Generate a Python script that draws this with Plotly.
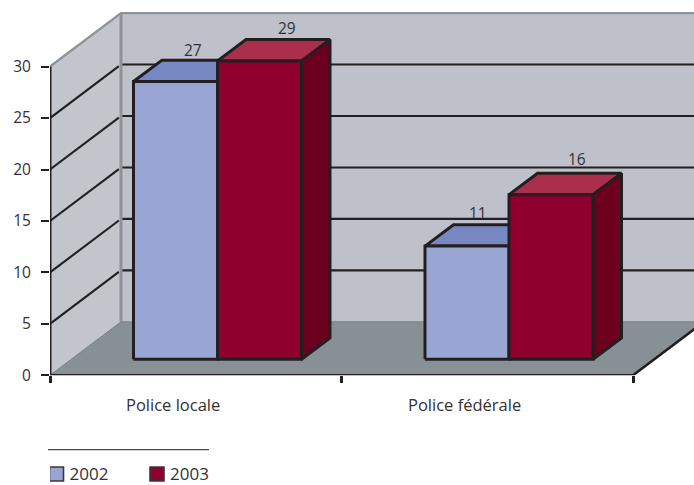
import plotly.graph_objects as go

# Chart content
categories = ["Police locale", "Police fédérale"]
years = ["2002", "2003"]
values_2002 = [27, 11]
values_2003 = [29, 16]
y_ticks = [0, 5, 10, 15, 20, 25, 30]

# Pixel frame of the front plane
W, H = 694, 485
LEFT, BASE = 50, 375.3
CAT_PX, UNIT_PX = 291.5, 10.29

# Pseudo-3D projection, expressed in axis units
WALL_DX, WALL_DY = 71 / CAT_PX, 53.5 / UNIT_PX
BAR_OFF_X, BAR_OFF_Y = 21 / CAT_PX, 16 / UNIT_PX
BAR_DX, BAR_DY = 28.5 / CAT_PX, 21.3 / UNIT_PX
BAR_W = 84 / CAT_PX
BAR_GAP = 62.5 / CAT_PX
X_END = 2.0
Y_TOP = 30

INK = "#231f20"
TEXT = "#333133"
RIM = "#8c9499"
WALL_BACK = "#bec1ca"
WALL_SIDE = "#c3c5cd"
FLOOR = "#879095"
FACES = {
    "2002": dict(front="#99a5d3", top="#7787c2", side="#6b79b3"),
    "2003": dict(front="#8f002e", top="#ab2e4c", side="#6d001f"),
}
FONT = "Open Sans"

fig = go.Figure()


def poly(xs, ys, fill, line=None, width=3):
    fig.add_trace(go.Scatter(
        x=xs, y=ys, mode="lines", fill="toself" if fill else None, fillcolor=fill,
        line=dict(color=line or "rgba(0,0,0,0)", width=width),
        hoverinfo="skip", showlegend=False, cliponaxis=False,
    ))


# Walls and floor
poly([0, WALL_DX, WALL_DX, 0, 0], [0, WALL_DY, WALL_DY + Y_TOP, Y_TOP, 0], WALL_SIDE)
poly([WALL_DX, X_END + WALL_DX, X_END + WALL_DX, WALL_DX, WALL_DX],
     [WALL_DY, WALL_DY, WALL_DY + Y_TOP, WALL_DY + Y_TOP, WALL_DY], WALL_BACK)
poly([0, X_END, X_END + WALL_DX, WALL_DX, 0], [0, 0, WALL_DY, WALL_DY, 0], FLOOR)

# Gridlines on the side and back walls
for v in y_ticks[1:-1]:
    poly([0, WALL_DX * 0.97], [v, v + WALL_DY * 0.97], None, INK, 2.1)
    poly([WALL_DX, X_END + WALL_DX], [v + WALL_DY, v + WALL_DY], None, INK, 2.1)

# Wall rims
poly([0, WALL_DX, X_END + WALL_DX], [Y_TOP, Y_TOP + WALL_DY, Y_TOP + WALL_DY], None, RIM, 2.4)
poly([WALL_DX, WALL_DX], [WALL_DY, WALL_DY + Y_TOP], None, RIM, 3)
poly([0, WALL_DX, X_END + WALL_DX], [0, WALL_DY, WALL_DY], None, "#767e83", 1)

# Axis lines on the front plane
poly([0, 0], [0, Y_TOP], None, INK, 3)
poly([0, X_END, X_END + WALL_DX], [0, 0, WALL_DY], None, INK, 2.5)

# Bars, back faces first, 2002 before 2003 so the red column overlaps the blue
for s, (year, series) in enumerate(zip(years, [values_2002, values_2003])):
    faces = FACES[year]
    for c, v in enumerate(series):
        x0 = c + BAR_OFF_X + BAR_GAP + s * BAR_W
        x1 = x0 + BAR_W
        y0 = BAR_OFF_Y
        y1 = y0 + v
        poly([x0, x1, x1 + BAR_DX, x0 + BAR_DX, x0],
             [y1, y1, y1 + BAR_DY, y1 + BAR_DY, y1], faces["top"], INK)
        poly([x1, x1 + BAR_DX, x1 + BAR_DX, x1, x1],
             [y0, y0 + BAR_DY, y1 + BAR_DY, y1, y0], faces["side"], INK)
        poly([x0, x1, x1, x0, x0], [y0, y0, y1, y1, y0], faces["front"], INK)

# Key below the chart, in its own strip: one swatch with its year label per series
for year, key_px in zip(years, [56.5, 157]):
    fig.add_trace(go.Scatter(
        x=[(key_px - LEFT) / CAT_PX], y=[0.5], xaxis="x2", yaxis="y2",
        mode="markers", name=year,
        marker=dict(symbol="square", size=14, color=FACES[year]["front"],
                    line=dict(color="#3a383a", width=1.6)),
        hoverinfo="skip", showlegend=False,
    ))
    fig.add_trace(go.Scatter(
        x=[(key_px + 13 - LEFT) / CAT_PX], y=[0.42], xaxis="x2", yaxis="y2",
        mode="text", text=[year], textposition="middle right",
        textfont=dict(family=FONT, size=17, color=TEXT),
        hoverinfo="skip", showlegend=False,
    ))

# Value labels above each bar, nudged in pixels off the back top edge
label_nudges = {(0, 0): (-10.7, 10.2), (1, 0): (-0.7, 11.6),
                (0, 1): (-17.5, 12.0), (1, 1): (-2.2, 14.4)}
annotations = []
for s, series in enumerate([values_2002, values_2003]):
    for c, v in enumerate(series):
        nx, ny = label_nudges[(s, c)]
        annotations.append(dict(
            x=c + BAR_OFF_X + BAR_GAP + s * BAR_W + BAR_W / 2 + BAR_DX,
            y=BAR_OFF_Y + v + BAR_DY,
            text=str(v), showarrow=False, xshift=nx, yshift=ny,
            xanchor="center", yanchor="middle",
            font=dict(family=FONT, size=15.5, color=TEXT),
        ))

# Category names sit left of the category centres
for c, name in enumerate(categories):
    annotations.append(dict(
        x=c + 0.5, y=0, text=name, showarrow=False, xshift=-23, yshift=-29.4,
        xanchor="center", yanchor="middle",
        font=dict(family=FONT, size=16.5, color=TEXT),
    ))

x_range = [0, (W - LEFT) / CAT_PX]
fig.update_layout(
    width=W, height=H, autosize=False,
    margin=dict(l=LEFT, r=0, t=0, b=0, pad=0, autoexpand=False),
    paper_bgcolor="white", plot_bgcolor="rgba(0,0,0,0)",
    font=dict(family=FONT, size=15.5, color=TEXT),
    annotations=annotations,
    hovermode=False,
    showlegend=False,
    shapes=[dict(
        type="line", xref="paper", yref="paper",
        x0=(48 - LEFT) / (W - LEFT), x1=(209 - LEFT) / (W - LEFT),
        y0=(H - 449.7) / H, y1=(H - 449.7) / H,
        line=dict(color=INK, width=1),
    )],
    xaxis=dict(
        range=x_range, automargin=False, anchor="y",
        showgrid=False, zeroline=False, showline=False,
        tickmode="array", tickvals=[0, 1, 2], ticks="outside", ticklen=7, tickwidth=2.8,
        tickcolor=INK, showticklabels=False, fixedrange=True,
    ),
    yaxis=dict(
        domain=[(H - BASE) / H, 1], anchor="x", automargin=False,
        range=[0, BASE / UNIT_PX], showgrid=False, zeroline=False, showline=False,
        tickmode="array", tickvals=y_ticks, ticks="outside", ticklen=8, tickwidth=2.1,
        tickcolor=INK, ticklabelstandoff=7, fixedrange=True,
        tickfont=dict(family=FONT, size=15.5, color=TEXT),
    ),
    xaxis2=dict(range=x_range, anchor="y2", visible=False, automargin=False, fixedrange=True),
    yaxis2=dict(domain=[0, 22 / H], range=[0, 1], anchor="x2", visible=False,
                automargin=False, fixedrange=True),
)

fig.write_html("out.html", config=dict(displayModeBar=False))
